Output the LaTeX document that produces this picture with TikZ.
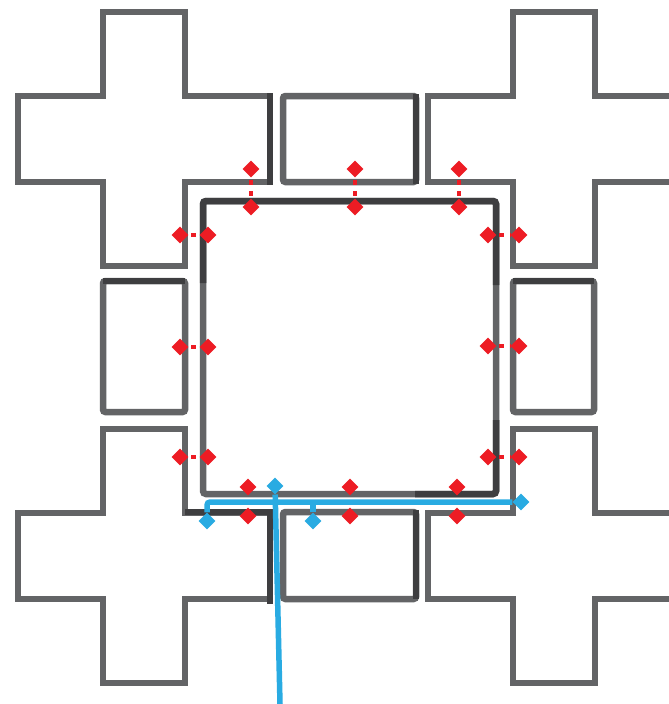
\documentclass[tikz,border=0pt]{standalone}
\usepackage{tikz}
\usetikzlibrary{shapes.geometric, arrows.meta, positioning}
\definecolor{wallgray}{RGB}{99,100,102}
\definecolor{walldark}{RGB}{62,62,64}
\definecolor{pinred}  {RGB}{237,28,36}
\definecolor{pathblue}{RGB}{41,171,226}

\tikzset{
  tile/.style={draw=wallgray, line width=6.5pt},
  darkedge/.style={draw=walldark, line width=6.5pt},
  redpin/.style={diamond, fill=pinred, inner sep=0pt, minimum width=17pt, minimum height=17pt},
  bluepin/.style={diamond, fill=pathblue, inner sep=0pt, minimum width=17pt, minimum height=17pt},
  gaplink/.style={draw=pinred, line width=4.5pt, dash pattern=on 5pt off 6pt, dash phase=8.5pt},
  route/.style={draw=pathblue, line width=5.5pt, rounded corners=3pt},
}

\begin{document}
\begin{tikzpicture}[x=1pt, y=-1pt]
  % Page frame
  \fill[white] (0,0) rectangle (669,704);
  \useasboundingbox (0,0) rectangle (669,704);
  \clip (0,0) rectangle (669,704);

  % Cross tiles
  \foreach \cx/\cy in {144/139, 554/139, 144/556, 554/556}{
    \begin{scope}[shift={(\cx,\cy)}]
      \draw[tile] (-41,-127) -- (41,-127) -- (41,-43) -- (126,-43) -- (126,43)
        -- (41,43) -- (41,127) -- (-41,127) -- (-41,43) -- (-126,43)
        -- (-126,-43) -- (-41,-43) -- cycle;
    \end{scope}
  }

  % Bar tiles
  \draw[tile, rounded corners=2.5pt] (283,96) rectangle (416,182);
  \draw[tile, rounded corners=2.5pt] (283,512) rectangle (416,599);
  \draw[tile, rounded corners=2.5pt] (103,281) rectangle (185,412);
  \draw[tile, rounded corners=2.5pt] (513,281) rectangle (594,412);

  % Darker edges
  \draw[darkedge] (270,93) -- (270,185);
  \draw[darkedge] (416,94) -- (416,184);
  \draw[darkedge] (103,281) -- (185,281);
  \draw[darkedge] (513,281) -- (594,281);
  \draw[darkedge] (185,512) -- (270,512) -- (270,604);
  \draw[darkedge] (416,510) -- (416,599);

  % Centre cell
  \draw[tile, rounded corners=3pt] (203,201) rectangle (496,494);
  \draw[darkedge, rounded corners=3pt] (203,283) -- (203,201) -- (496,201) -- (496,285);
  \draw[darkedge, rounded corners=3pt] (496,420) -- (496,494) -- (415,494);

  % Gap markers, top
  \foreach \x [count=\i] in {251,355,459}{
    \node[redpin] (top\i o) at (\x,169) {};
    \node[redpin] (top\i i) at (\x,207) {};
    \draw[gaplink] (top\i o) -- (top\i i);
  }
  % Gap markers, left
  \foreach \y [count=\i] in {235,347,457}{
    \node[redpin] (lft\i o) at (180,\y) {};
    \node[redpin] (lft\i i) at (208,\y) {};
    \draw[gaplink] (lft\i o) -- (lft\i i);
  }
  % Gap markers, right
  \foreach \y [count=\i] in {235,346,457}{
    \node[redpin] (rgt\i i) at (488,\y) {};
    \node[redpin] (rgt\i o) at (519,\y) {};
    \draw[gaplink] (rgt\i i) -- (rgt\i o);
  }
  % Gap markers, bottom
  \foreach \x [count=\i] in {248,350,457}{
    \node[redpin] (bot\i i) at (\x,487) {};
    \node[redpin] (bot\i o) at (\x,516) {};
  }

  % Blue route
  \node[bluepin] (bT) at (275,486) {};
  \node[bluepin] (bL) at (207,521) {};
  \node[bluepin] (bM) at (313,521) {};
  \node[bluepin] (bR) at (521,502) {};
  \coordinate (bB) at (280,704);
  \draw[route] (bL) |- (bR);
  \draw[route] (bM) -- (bM |- bR);
  \draw[route] (bT) -- (bB);
\end{tikzpicture}
\end{document}
